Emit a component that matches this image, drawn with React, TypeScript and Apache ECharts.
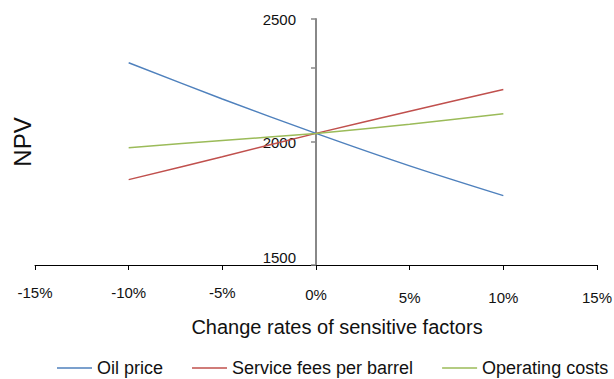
import React, { useEffect, useRef } from "react";
import * as echarts from "echarts";

// Change rate of each sensitive factor (%)
const changeRates = [-10, -5, 0, 5, 10];

// NPV under each change rate
const oilPrice = [2322, 2175, 2035, 1903, 1782];
const serviceFees = [1847, 1940, 2035, 2125, 2213];
const operatingCosts = [1977, 2006, 2035, 2072, 2115];

const seriesNames = ["Oil price", "Service fees per barrel", "Operating costs"];
const seriesColors = ["#4F81BD", "#C0504D", "#9BBB59"];

const yTickValues = [1500, 2000, 2300, 2500];
const yLabelValues = [1500, 2000, 2500];

const FONT = "'Liberation Sans', Arial, sans-serif";

const GRID_LEFT = 35;
const GRID_RIGHT = 17;
const CHART_W = 614;

export default function App() {
  const ref = useRef<HTMLDivElement>(null);

  useEffect(() => {
    if (!ref.current) return;
    const chart = echarts.init(ref.current, undefined, { renderer: "svg" });

    const toPairs = (vals: number[]) => changeRates.map((r, i) => [r, vals[i]]);
    const allSeries = [oilPrice, serviceFees, operatingCosts];

    // the vertical axis sits at the 0% change rate, in the middle of the plot
    const plotW = CHART_W - GRID_LEFT - GRID_RIGHT;
    const yAxisOffset = -plotW / 2;

    chart.setOption({
      animation: false,
      backgroundColor: "#ffffff",
      textStyle: { fontFamily: FONT },
      grid: {
        left: GRID_LEFT,
        right: GRID_RIGHT,
        top: 19,
        bottom: 114,
        containLabel: false,
        outerBoundsMode: "none",
      },
      legend: {
        left: 52,
        top: 354,
        width: 900,
        icon: "rect",
        itemWidth: 35,
        itemHeight: 1.5,
        itemGap: 29,
        textStyle: { fontFamily: FONT, fontSize: 18, color: "#111" },
        data: seriesNames,
      },
      xAxis: {
        type: "value",
        min: -15,
        max: 15,
        interval: 5,
        name: "Change rates of sensitive factors",
        nameLocation: "middle",
        nameGap: 52,
        nameTextStyle: {
          fontFamily: FONT,
          fontSize: 20,
          color: "#111",
          padding: [0, 0, 0, 42],
        },
        splitLine: { show: false },
        axisLine: { onZero: false, lineStyle: { color: "#000", width: 1 } },
        axisTick: { show: true, length: 5, lineStyle: { color: "#000" } },
        axisLabel: {
          margin: 20,
          showMinLabel: true,
          showMaxLabel: true,
          formatter: (v: number) =>
            v < 0 ? `{n|${v}%}` : v === 0 ? `{z|${v}%}` : `{p|${v}%}`,
          rich: {
            n: { fontFamily: FONT, fontSize: 15, color: "#111", padding: [0, 0, 0, 0] },
            z: { fontFamily: FONT, fontSize: 15, color: "#111", padding: [2, 0, 0, 0] },
            p: { fontFamily: FONT, fontSize: 15, color: "#111", padding: [5, 0, 0, 0] },
          },
        },
      },
      yAxis: {
        type: "value",
        min: 1500,
        max: 2500,
        interval: 500,
        offset: yAxisOffset,
        name: "NPV",
        nameLocation: "middle",
        nameRotate: 90,
        nameGap: 282,
        nameTextStyle: { fontFamily: FONT, fontSize: 24, color: "#111" },
        splitLine: { show: false },
        axisLine: { onZero: false, lineStyle: { color: "#888888", width: 2 } },
        axisTick: {
          show: true,
          length: 5,
          customValues: yTickValues,
          lineStyle: { color: "#888888", width: 1.5 },
        },
        axisLabel: {
          margin: 20,
          customValues: yLabelValues,
          formatter: (v: number) => (v === 1500 ? `{low|${v}}` : `{t|${v}}`),
          rich: {
            t: { fontFamily: FONT, fontSize: 15, color: "#111" },
            low: { fontFamily: FONT, fontSize: 15, color: "#111", padding: [0, 0, 16, 0] },
          },
        },
      },
      series: allSeries.map((vals, i) => ({
        name: seriesNames[i],
        type: "line",
        data: toPairs(vals),
        symbol: "none",
        smooth: 0.3,
        lineStyle: { color: seriesColors[i], width: 1.5 },
        itemStyle: { color: seriesColors[i] },
        z: 3,
      })),
    });

    return () => chart.dispose();
  }, []);

  return (
    <div
      ref={ref}
      style={{ position: "fixed", left: 0, top: 0, width: CHART_W, height: 379 }}
    />
  );
}
